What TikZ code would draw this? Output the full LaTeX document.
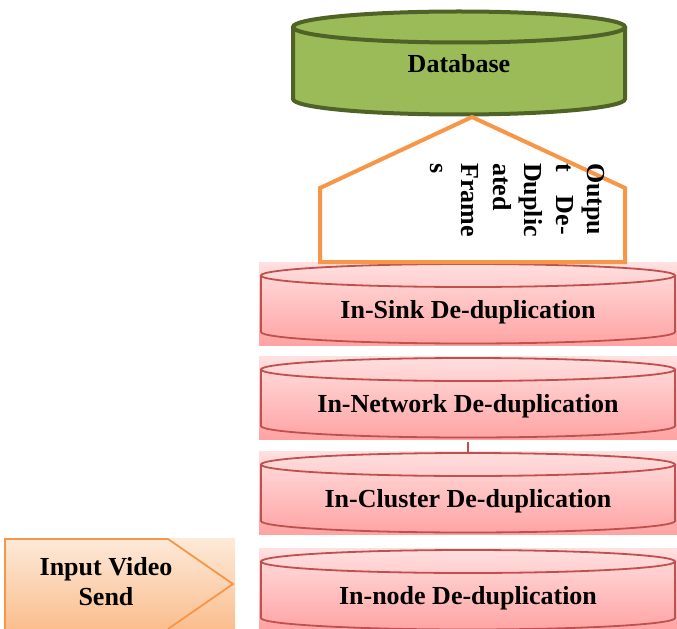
\documentclass[tikz,border=0pt]{standalone}
\usepackage{fontspec}
\setmainfont{Liberation Serif}
\definecolor{dbfill}{HTML}{9BBB59}
\definecolor{dbline}{HTML}{4F6228}
\definecolor{orangeline}{HTML}{F79646}
\definecolor{redline}{HTML}{C0504D}
\definecolor{pinktop}{RGB}{255,224,224}
\definecolor{pinkbot}{RGB}{255,163,163}
\definecolor{peachtop}{RGB}{253,234,218}
\definecolor{peachbot}{RGB}{250,190,142}
\newcommand{\redcyl}[3]{%
  \shade[top color=pinktop, bottom color=pinkbot] (259,#2) rectangle (677,{#2+83});
  \draw[cylline] (468,{#2+13.5}) ellipse [x radius=207bp, y radius=11.5bp];
  \draw[cylline] (261,{#2+13.5}) -- (261,{#2+70})
     arc [start angle=180, end angle=360, x radius=207bp, y radius=11.5bp] -- (675,{#2+13.5});
  \node[lbl, anchor=base] (#1) at (468,{#2+56}) {#3};
}
\begin{document}
\begin{tikzpicture}[x=1bp, y=-1bp,
  lbl/.style={font=\bfseries\fontsize{26bp}{31.5bp}\selectfont, inner sep=0pt},
  cylline/.style={draw=redline, line width=1.8bp},
  dbstroke/.style={draw=dbline, line width=4bp},
  orangestroke/.style={draw=orangeline, line width=4bp, line join=miter}]
\useasboundingbox (0,0) rectangle (677,629);

% Database cylinder
\fill[dbfill] (293,27) -- (293,99)
   arc [start angle=180, end angle=360, x radius=166bp, y radius=15.5bp] -- (625,27)
   arc [start angle=0, end angle=180, x radius=166bp, y radius=15.5bp] -- cycle;
\draw[dbstroke] (459,27) ellipse [x radius=166bp, y radius=15.5bp];
\draw[dbstroke] (293,27) -- (293,99)
   arc [start angle=180, end angle=360, x radius=166bp, y radius=15.5bp] -- (625,27);
\node[lbl, anchor=base] (db) at (459,72.5) {Database};

% red cylinders
\redcyl{sink}{262}{In-Sink De-duplication}
\redcyl{net}{356}{In-Network De-duplication}
\redcyl{clu}{451}{In-Cluster De-duplication}
\redcyl{innode}{548}{In-node De-duplication}

% connector between network and cluster
\coordinate (netbot) at (468,442);
\coordinate (clutop) at (468,452);
\draw[cylline] (netbot) -- (clutop);

% pentagon (output)
\draw[orangestroke, fill=white] (472,117) -- (625,188) -- (625,262) -- (320,262) -- (320,188) -- cycle;
\node[lbl, rotate=-90, anchor=north west, align=left] (out) at (605,163)
  {Outpu\\t\hspace{24bp}De-\\Duplic\\ated\\Frame\\s};

% input arrow
\shade[top color=peachtop, bottom color=peachbot] (4,538) rectangle (235,629);
\draw[draw=orangeline, line width=1.8bp] (5,629) -- (5,539) -- (168,539) -- (233,584) -- (168,629);
\node[lbl, align=center, font=\bfseries\fontsize{26bp}{30bp}\selectfont] (input) at (106,582) {Input Video\\Send};
\end{tikzpicture}
\end{document}
